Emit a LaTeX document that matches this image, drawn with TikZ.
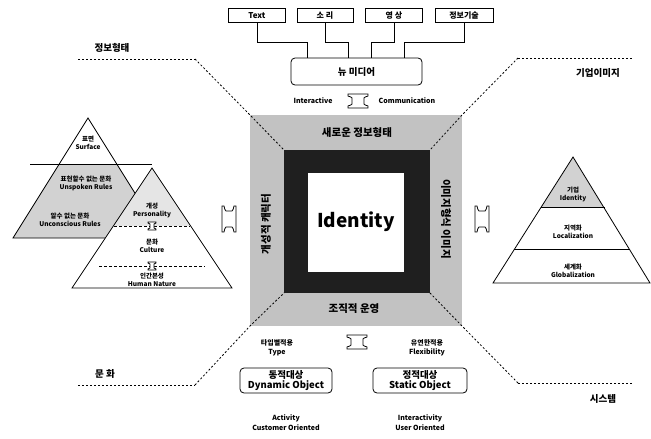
\documentclass[tikz,border=0pt]{standalone}
\usepackage{fontspec}
\setmainfont{Noto Sans CJK KR}
\begin{document}
\begin{tikzpicture}[x=1pt,y=-1pt,
  box/.style={draw,thick,fill=white,minimum height=14pt,inner sep=1pt,font=\bfseries\fontsize{8}{9}\selectfont},
  rbox/.style={draw,thick,rounded corners=4pt,fill=white,align=center,inner sep=1pt,font=\bfseries\fontsize{9.5}{10.5}\selectfont},
  lbl/.style={font=\bfseries\fontsize{9.5}{10}\selectfont},
  sm/.style={align=center,inner sep=0pt,font=\bfseries\fontsize{6.5}{8}\selectfont},
  bt/.style={font=\bfseries\fontsize{10.5}{11}\selectfont},
  dline/.style={thick,dash pattern=on 2pt off 2pt},
  conn/.style={thick},
  band/.style={fill=gray!48},
]
\useasboundingbox (0,0) rectangle (651,439);
\tikzset{
  vdarr/.pic={\draw[thick,fill=white] (-10,-7)--(10,-7)--(10,-5)..controls(7,-4)..(6,-3)--(6,3)..controls(7,4)..(10,5)--(10,7)--(-10,7)--(-10,5)..controls(-7,4)..(-6,3)--(-6,-3)..controls(-7,-4)..(-10,-5)--cycle;},
  hdarr/.pic={\draw[thick,fill=white] (-7,-13)--(-7,13)--(-5,13)..controls(-4,9)..(-3,8)--(3,8)..controls(4,9)..(5,13)--(7,13)--(7,-13)--(5,-13)..controls(4,-9)..(3,-8)--(-3,-8)..controls(-4,-9)..(-5,-13)--cycle;},
  tarr/.pic={\draw[thick,fill=white] (-4,-4)--(4,-4)--(4,-3)--(2,-2)--(2,2)--(4,3)--(4,4)--(-4,4)--(-4,3)--(-2,2)--(-2,-2)--(-4,-3)--cycle;},
}
% top boxes
\node[box,minimum width=57pt] (t1) at (257,15.5) {Text};
\node[box,minimum width=56pt] (t2) at (325,15.5) {소 리};
\node[box,minimum width=57pt] (t3) at (394,15.5) {영 상};
\node[box,minimum width=58pt] (t4) at (464,15.5) {정보기술};
\node[rbox,minimum width=131pt,minimum height=27pt] (nm) at (356.5,71.5) {뉴 미디어};
\draw[conn] (t1.south) |- (307,42) -- (307,58);
\draw[conn] (t2.south) |- (348,42) -- (348,58);
\draw[conn] (t3.south) |- (371,42) -- (371,58);
\draw[conn] (t4.south) |- (404,42) -- (404,58);
\node[sm,font=\bfseries\fontsize{7}{8}\selectfont] (ia) at (313,101) {Interactive};
\node[sm,font=\bfseries\fontsize{7}{8}\selectfont] (cm) at (407,101) {Communication};
\pic at (358,101) {vdarr};
% central square
\fill[band] (250,115) rectangle (462,326);
\fill[black!88] (284,150) rectangle (430,293);
\fill[white] (308,173) rectangle (404,272);
\draw[dline] (195,59) -- (250,115) -- (284,150);
\draw[dline] (518,58) -- (462,115) -- (430,150);
\draw[dline] (195,385) -- (250,326) -- (284,293);
\draw[dline] (518,383) -- (462,326) -- (430,293);
\draw[dline] (78,59) -- (195,59);
\draw[dline] (518,58) -- (633,58);
\draw[dline] (78,385) -- (195,385);
\draw[dline] (518,383) -- (633,383);
\node[lbl] (l1) at (112,48) {정보형태};
\node[lbl] (l2) at (598,73) {기업이미지};
\node[lbl] (l3) at (105,374) {문 화};
\node[lbl] (l4) at (603,399) {시스템};
\node[bt] (s1) at (357,133) {새로운 정보형태};
\node[bt] (s2) at (354,309) {조직적 운영};
\node[bt,rotate=90] (s3) at (266,224) {개성적 캐릭터};
\node[bt,rotate=-90] (s4) at (446,219) {이미지형식 이미지};
\node[font=\bfseries\fontsize{19}{20}\selectfont] (id) at (356,222) {Identity};
% left pyramids
\begin{scope}
\clip (13,238) -- (88,118) -- (163,238) -- cycle;
\fill[gray!35] (0,164) rectangle (200,240);
\end{scope}
\draw[thick] (13,238) -- (88,118) -- (163,238) -- cycle;
\draw[thick] (30,164) -- (152,164);
\node[sm] (p1) at (88,143) {표면\\Surface};
\node[sm] (p2) at (86,183) {표현할수 없는 문화\\Unspoken Rules};
\node[sm] (p3) at (70,220) {알수 없는 문화\\Unconscious Rules};
\fill[white] (72,288) -- (152,168) -- (232,288) -- cycle;
\begin{scope}
\clip (72,288) -- (152,168) -- (232,288) -- cycle;
\fill[gray!20] (0,160) rectangle (240,226);
\end{scope}
\draw[thick] (72,288) -- (152,168) -- (232,288) -- cycle;
\draw[dash pattern=on 3pt off 2pt] (114,226) -- (190,226);
\draw[dash pattern=on 3pt off 2pt] (99,266) -- (205,266);
\pic at (152,226) {tarr};
\pic at (152,266) {tarr};
\node[sm] (q1) at (152,210) {개성\\Personality};
\node[sm] (q2) at (152,246) {문화\\Culture};
\node[sm] (q3) at (152,280) {인간본성\\Human Nature};
\pic at (229,219) {hdarr};
\pic at (482,219) {hdarr};
% right pyramid
\begin{scope}
\clip (493,283) -- (573,157) -- (650,283) -- cycle;
\fill[gray!35] (480,150) rectangle (651,207);
\end{scope}
\draw[thick] (493,283) -- (573,157) -- (650,283) -- cycle;
\draw[thick] (541,207) -- (605,207);
\draw[thick] (514,249) -- (629,249);
\node[sm] (r1) at (573,194) {기업\\Identity};
\node[sm] (r2) at (573,232) {지역화\\Localization};
\node[sm] (r3) at (573,271) {세계화\\Globalization};
% bottom
\pic at (357,342) {vdarr};
\node[sm,font=\bfseries\fontsize{7}{8.5}\selectfont] (b1) at (277,348) {타입별적용\\Type};
\node[sm,font=\bfseries\fontsize{7}{8.5}\selectfont] (b2) at (427,348) {유연한적용\\Flexibility};
\node[rbox,minimum width=92pt,minimum height=25pt] (d1) at (286,380.5) {동적대상\\Dynamic Object};
\node[rbox,minimum width=94pt,minimum height=25pt] (d2) at (420,380.5) {정적대상\\Static Object};
\node[sm,font=\bfseries\fontsize{7}{10}\selectfont] (c1) at (286,423) {Activity\\Customer Oriented};
\node[sm,font=\bfseries\fontsize{7}{10}\selectfont] (c2) at (420,423) {Interactivity\\User Oriented};
\end{tikzpicture}
\end{document}
